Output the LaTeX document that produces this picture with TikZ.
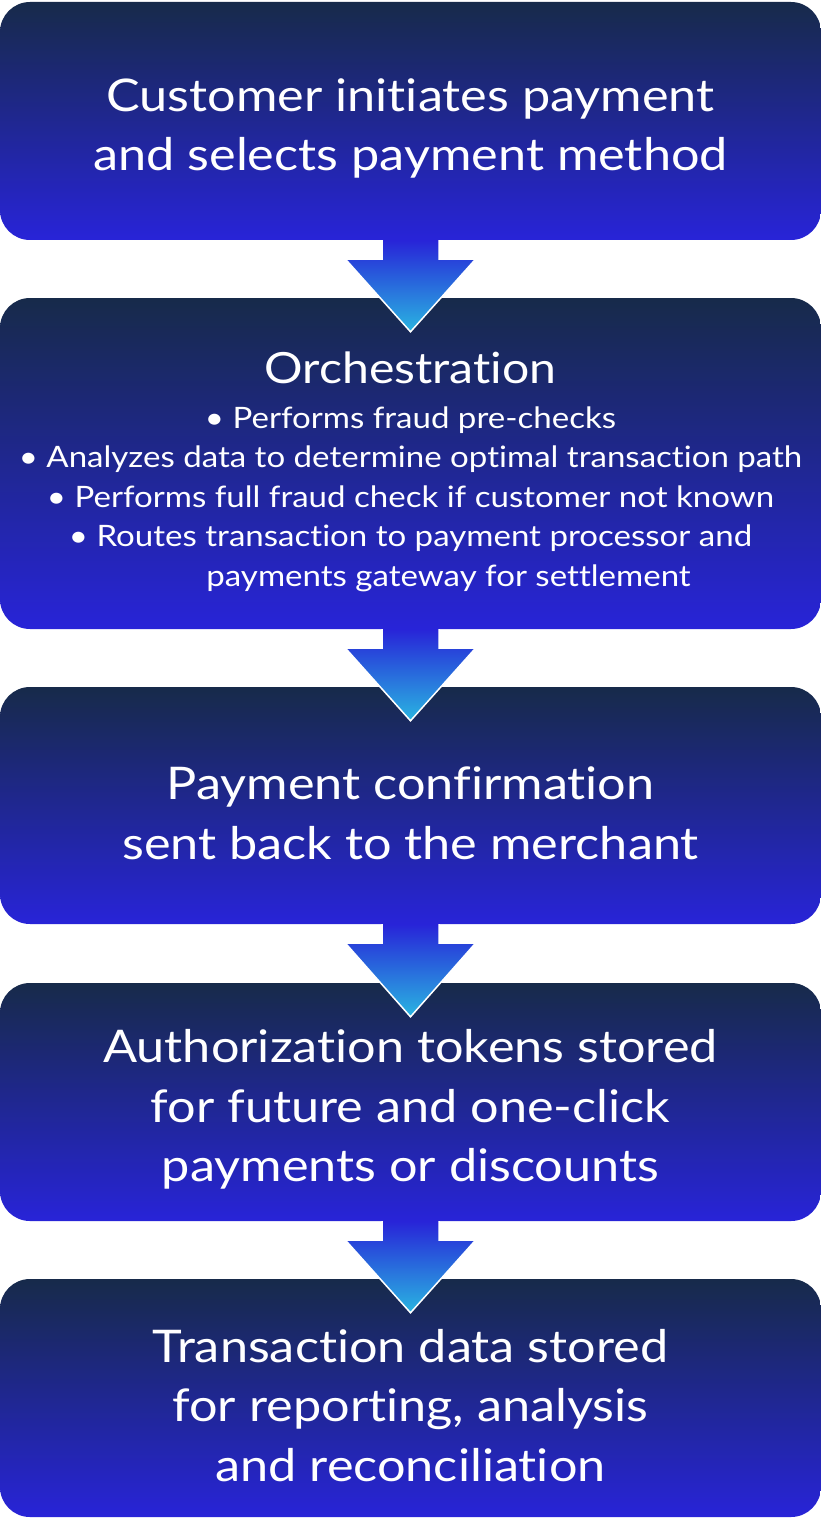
\documentclass[tikz,border=0pt]{standalone}
\usepackage{fontspec}
\setmainfont{Lato}[FakeStretch=1.12, Ligatures={NoCommon,NoRequired}]

\definecolor{boxtop}{HTML}{172A4A}
\definecolor{boxbot}{HTML}{2824D8}
\definecolor{tipcyan}{HTML}{29B5E1}

\newcommand\topstrut{\rule{0pt}{48pt}}

\tikzstyle{stepbox}=[rounded corners=30pt, top color=boxtop, bottom color=boxbot,
  minimum width=821pt, inner sep=0pt, text=white, align=center,
  font=\fontsize{45}{59.5}\selectfont]
\tikzstyle{flow}=[top color=boxbot, bottom color=tipcyan, draw=white, line width=1.5pt]

\begin{document}
\begin{tikzpicture}[x=1pt, y=-1pt]
  \useasboundingbox (0,0) rectangle (821,1522);
  \node[stepbox, minimum height=238pt] (cust) at (410.5,121)
    {\topstrut Customer initiates payment\\and selects payment method};
  \node[stepbox, minimum height=331pt, font=\fontsize{29.5}{39.5}\selectfont] (orch) at (410.5,463.5)
    {\topstrut{\fontsize{43}{43}\selectfont Orchestration}\\[5.5pt]
     • Performs fraud pre-checks\\
     • Analyzes data to determine optimal transaction path\\
     • Performs full fraud check if customer not known\\
     • Routes transaction to payment processor and\\
     \hspace*{76pt}payments gateway for settlement};
  \node[stepbox, minimum height=237pt] (conf) at (410.5,805.5)
    {\topstrut Payment confirmation\\sent back to the merchant};
  \node[stepbox, minimum height=238pt] (auth) at (410.5,1102)
    {\topstrut Authorization tokens stored\\for future and one-click\\payments or discounts};
  \node[stepbox, minimum height=238pt] (data) at (410.5,1398)
    {\topstrut Transaction data stored\\for reporting, analysis\\and reconciliation};
  % arrows between the steps
  \foreach \a/\b in {cust/orch, orch/conf, conf/auth, auth/data} {%
    \path[flow] ([xshift=-28.5pt]\a.south) -- ([xshift=-28.5pt, yshift=-19pt]\a.south)
      -- ([xshift=-65pt, yshift=-19pt]\a.south) -- ([yshift=-34pt]\b.north)
      -- ([xshift=65pt, yshift=-19pt]\a.south) -- ([xshift=28.5pt, yshift=-19pt]\a.south)
      -- ([xshift=28.5pt]\a.south);
  }
\end{tikzpicture}
\end{document}
